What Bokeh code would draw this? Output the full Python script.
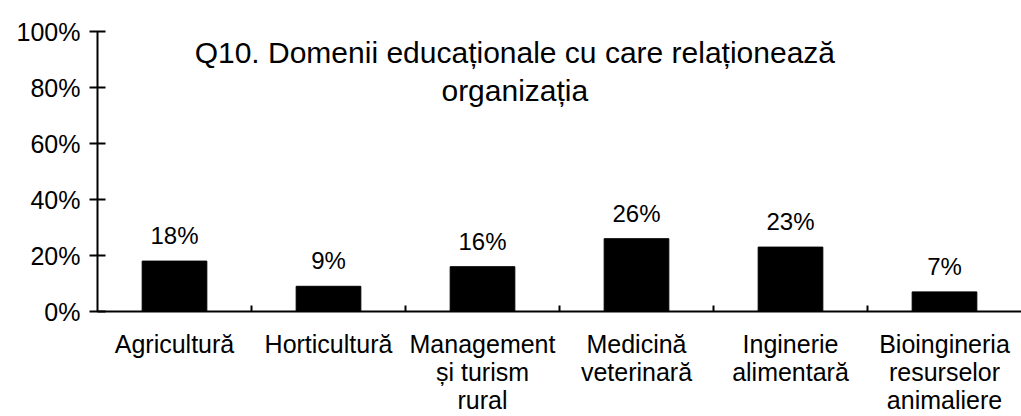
from bokeh.plotting import figure
from bokeh.models import (Range1d, FixedTicker, PrintfTickFormatter, LinearAxis,
                          ColumnDataSource, LabelSet, Label)
from bokeh.core.properties import value
from bokeh.embed import file_html
from bokeh.resources import INLINE

categories = ["Agricultură", "Horticultură", "Management\nși turism\nrural",
              "Medicină\nveterinară", "Inginerie\nalimentară",
              "Bioingineria\nresurselor\nanimaliere"]
values = [18, 9, 16, 26, 23, 7]
y_ticks = [0, 20, 40, 60, 80, 100]
title_text = "Q10. Domenii educaționale cu care relaționează\norganizația"

FONT = "Liberation Sans"
n = len(categories)
xs = [i + 0.5 for i in range(n)]

src = ColumnDataSource(dict(x=xs, top=values,
                            lab=[f"{v}%" for v in values]))

p = figure(width=1021, height=416, output_backend="svg", toolbar_location=None,
           x_range=Range1d(0, n), y_range=Range1d(0, 100),
           x_axis_type=None, y_axis_type=None,
           min_border_left=97, min_border_right=0, min_border_top=31,
           min_border_bottom=105)
p.outline_line_color = None
p.background_fill_color = "white"
p.border_fill_color = "white"
p.xgrid.visible = False
p.ygrid.visible = False

p.vbar(x="x", top="top", bottom=0, width=0.42, source=src,
       fill_color="black", line_color="black")

# y axis
yax = LinearAxis(ticker=FixedTicker(ticks=y_ticks),
                 formatter=PrintfTickFormatter(format="%d%%"))
yax.axis_line_color = "black"
yax.axis_line_width = 2
yax.major_tick_in = 8
yax.major_tick_out = 8
yax.major_tick_line_width = 2
yax.minor_tick_line_color = None
yax.major_label_standoff = 9
yax.major_label_text_font = FONT
yax.major_label_text_font_size = "25px"
yax.major_label_text_color = "black"
p.add_layout(yax, "left")

# x axis: labels at centres, small ticks at category boundaries
xax = LinearAxis(ticker=FixedTicker(ticks=xs, minor_ticks=list(range(1, n))))
xax.major_label_overrides = {x: c for x, c in zip(xs, categories)}
xax.axis_line_color = "black"
xax.axis_line_width = 2
xax.major_tick_line_color = None
xax.major_tick_in = 0
xax.major_tick_out = 0
xax.minor_tick_in = 6
xax.minor_tick_out = 0
xax.minor_tick_line_width = 2
xax.minor_tick_line_color = "black"
xax.major_label_standoff = 18
xax.major_label_text_font = FONT
xax.major_label_text_font_size = "25px"
xax.major_label_text_color = "black"
xax.major_label_text_line_height = 1.0
p.add_layout(xax, "below")

labels = LabelSet(x="x", y="top", text="lab", source=src, y_offset=12,
                  text_align="center", text_baseline="bottom",
                  text_font=value(FONT), text_font_size=value("24px"),
                  text_color=value("black"))
p.add_layout(labels)

title = Label(x=2.71, y=98.5, text=title_text, text_align="center",
              text_baseline="top", text_font=FONT, text_font_size="30px",
              text_color="black", text_line_height=1.15)
p.add_layout(title)

open("out.html", "w").write(file_html(p, INLINE))
